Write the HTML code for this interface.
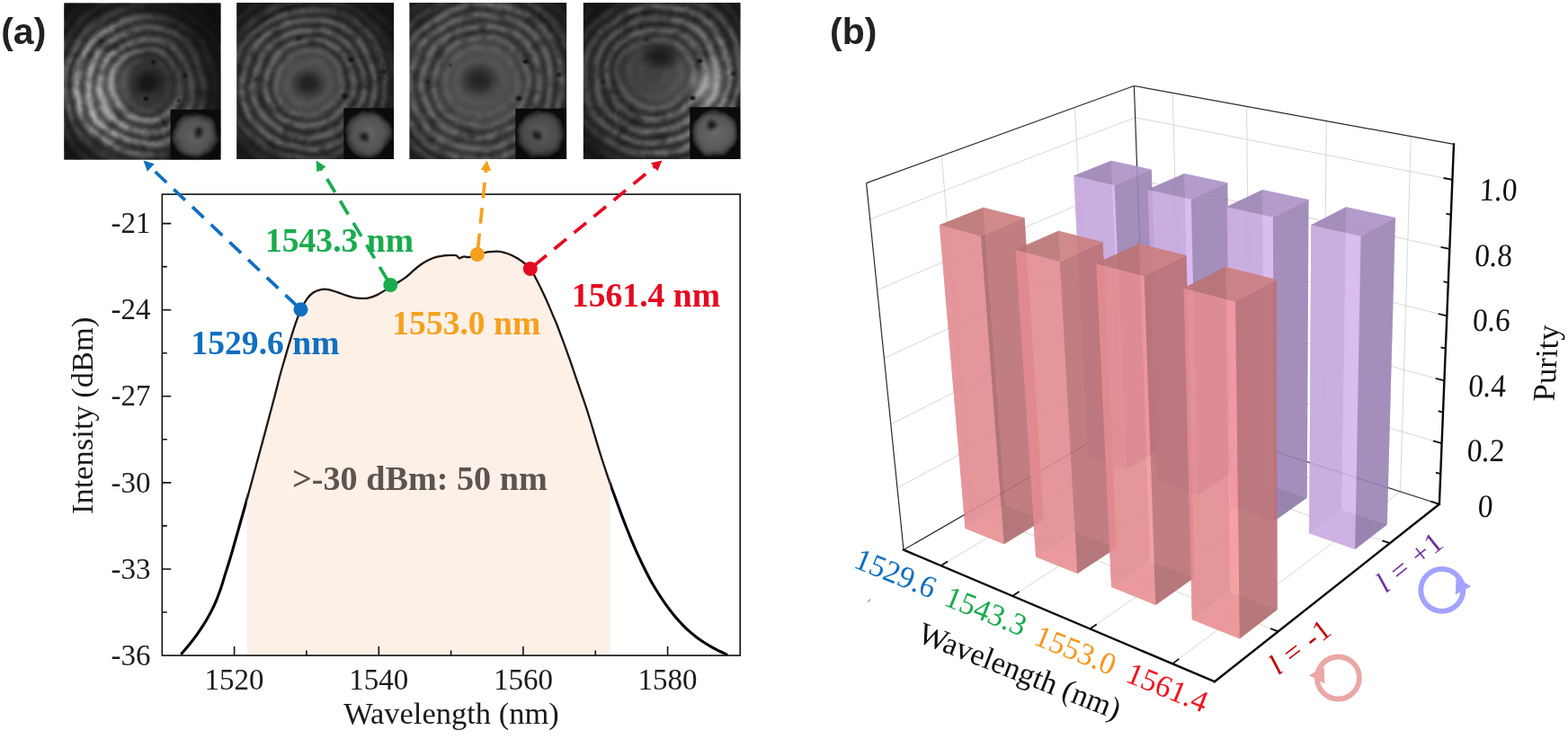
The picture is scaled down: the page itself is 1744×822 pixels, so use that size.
<!DOCTYPE html>
<html lang="en"><head><meta charset="utf-8"><title>Figure</title>
<style>
html,body{margin:0;padding:0;background:#fff;}
body{width:1744px;height:822px;overflow:hidden;}
svg{display:block;}
text{white-space:pre;}
</style></head><body>
<svg width="1744" height="822" viewBox="0 0 1744 822">
<rect width="1744" height="822" fill="#ffffff"/>
<defs>
<filter id="ib" x="-5%" y="-5%" width="110%" height="110%"><feGaussianBlur stdDeviation="0.9"/></filter>
<filter id="ib2" x="-20%" y="-20%" width="140%" height="140%"><feTurbulence type="fractalNoise" baseFrequency="0.05" numOctaves="2" seed="7" result="t"/><feDisplacementMap in="SourceGraphic" in2="t" scale="7" xChannelSelector="R" yChannelSelector="G"/><feGaussianBlur stdDeviation="1.0"/></filter>
<filter id="wr0" filterUnits="userSpaceOnUse" x="65.4" y="-2.4" width="186.0" height="185.8" color-interpolation-filters="sRGB"><feTurbulence type="fractalNoise" baseFrequency="0.018" numOctaves="2" seed="3" result="t"/><feDisplacementMap in="SourceGraphic" in2="t" scale="11" xChannelSelector="R" yChannelSelector="G" result="w"/><feGaussianBlur in="w" stdDeviation="1.0" result="b"/><feTurbulence type="fractalNoise" baseFrequency="0.07" numOctaves="2" seed="11" result="n"/><feColorMatrix in="n" type="matrix" values="0 0 0 0 0.08  0 0 0 0 0.08  0 0 0 0 0.08  1.1 0 0 0 -0.42" result="na"/><feComposite in="na" in2="b" operator="over"/></filter>
<filter id="wr1" filterUnits="userSpaceOnUse" x="257.4" y="-3.1" width="186.6" height="186.2" color-interpolation-filters="sRGB"><feTurbulence type="fractalNoise" baseFrequency="0.018" numOctaves="2" seed="8" result="t"/><feDisplacementMap in="SourceGraphic" in2="t" scale="9" xChannelSelector="R" yChannelSelector="G" result="w"/><feGaussianBlur in="w" stdDeviation="1.0" result="b"/><feTurbulence type="fractalNoise" baseFrequency="0.07" numOctaves="2" seed="12" result="n"/><feColorMatrix in="n" type="matrix" values="0 0 0 0 0.08  0 0 0 0 0.08  0 0 0 0 0.08  1.1 0 0 0 -0.42" result="na"/><feComposite in="na" in2="b" operator="over"/></filter>
<filter id="wr2" filterUnits="userSpaceOnUse" x="449.6" y="-3.1" width="186.5" height="186.2" color-interpolation-filters="sRGB"><feTurbulence type="fractalNoise" baseFrequency="0.018" numOctaves="2" seed="13" result="t"/><feDisplacementMap in="SourceGraphic" in2="t" scale="9" xChannelSelector="R" yChannelSelector="G" result="w"/><feGaussianBlur in="w" stdDeviation="1.0" result="b"/><feTurbulence type="fractalNoise" baseFrequency="0.07" numOctaves="2" seed="13" result="n"/><feColorMatrix in="n" type="matrix" values="0 0 0 0 0.08  0 0 0 0 0.08  0 0 0 0 0.08  1.1 0 0 0 -0.42" result="na"/><feComposite in="na" in2="b" operator="over"/></filter>
<filter id="wr3" filterUnits="userSpaceOnUse" x="642.9" y="-3.1" width="186.5" height="186.2" color-interpolation-filters="sRGB"><feTurbulence type="fractalNoise" baseFrequency="0.018" numOctaves="2" seed="18" result="t"/><feDisplacementMap in="SourceGraphic" in2="t" scale="10" xChannelSelector="R" yChannelSelector="G" result="w"/><feGaussianBlur in="w" stdDeviation="1.0" result="b"/><feTurbulence type="fractalNoise" baseFrequency="0.07" numOctaves="2" seed="14" result="n"/><feColorMatrix in="n" type="matrix" values="0 0 0 0 0.08  0 0 0 0 0.08  0 0 0 0 0.08  1.1 0 0 0 -0.42" result="na"/><feComposite in="na" in2="b" operator="over"/></filter>
<clipPath id="ic0"><rect x="71.4" y="3.6" width="174.0" height="173.8"/></clipPath>
<radialGradient id="rg0" gradientUnits="userSpaceOnUse" cx="163" cy="95" r="6.5" spreadMethod="reflect" gradientTransform="translate(163,95) rotate(0) scale(1.0,1.0) translate(-163,-95)"><stop offset="0" stop-color="rgb(186,186,186)"/><stop offset="0.5" stop-color="rgb(126,126,126)"/><stop offset="1" stop-color="rgb(66,66,66)"/></radialGradient>
<radialGradient id="env0" gradientUnits="userSpaceOnUse" cx="154" cy="92" r="110.0"><stop offset="0" stop-color="#101010" stop-opacity="0"/><stop offset="0.62" stop-color="#101010" stop-opacity="0.05"/><stop offset="0.8" stop-color="#101010" stop-opacity="0.72"/><stop offset="1" stop-color="#101010" stop-opacity="0.93"/></radialGradient>
<linearGradient id="dir0" gradientUnits="userSpaceOnUse" x1="71.4" y1="133.9" x2="245.4" y2="47.0"><stop offset="0.15" stop-color="#121212" stop-opacity="0.0"/><stop offset="0.85" stop-color="#121212" stop-opacity="0.7"/></linearGradient>
<radialGradient id="core0" gradientUnits="userSpaceOnUse" cx="164" cy="93" r="40"><stop offset="0" stop-color="rgb(60,60,60)" stop-opacity="0.9"/><stop offset="0.5" stop-color="rgb(70,70,70)" stop-opacity="0.9"/><stop offset="0.75" stop-color="rgb(74,74,74)" stop-opacity="0.63"/><stop offset="1" stop-color="rgb(74,74,74)" stop-opacity="0"/></radialGradient>
<radialGradient id="bl0_0"><stop offset="0" stop-color="#0c0c0c" stop-opacity="0.78"/><stop offset="0.45" stop-color="#0c0c0c" stop-opacity="0.58"/><stop offset="1" stop-color="#0c0c0c" stop-opacity="0"/></radialGradient>
<radialGradient id="bl0_1"><stop offset="0" stop-color="#ffffff" stop-opacity="0.13"/><stop offset="0.45" stop-color="#ffffff" stop-opacity="0.10"/><stop offset="1" stop-color="#ffffff" stop-opacity="0"/></radialGradient>
<radialGradient id="dn0" gradientUnits="userSpaceOnUse" cx="217.5" cy="150.5" r="25.5"><stop offset="0" stop-color="rgb(100,100,100)"/><stop offset="0.72" stop-color="rgb(82,82,82)"/><stop offset="0.9" stop-color="rgb(50,50,50)"/><stop offset="1" stop-color="#0c0c0c"/></radialGradient>
<radialGradient id="hl0" gradientUnits="userSpaceOnUse" cx="220.5" cy="147.5" r="9"><stop offset="0" stop-color="#141414" stop-opacity="1"/><stop offset="0.4" stop-color="#1c1c1c" stop-opacity="0.85"/><stop offset="1" stop-color="#333" stop-opacity="0"/></radialGradient>
<clipPath id="ic1"><rect x="263.4" y="2.9" width="174.6" height="174.2"/></clipPath>
<radialGradient id="rg1" gradientUnits="userSpaceOnUse" cx="343" cy="93" r="5.9" spreadMethod="reflect" gradientTransform="translate(343,93) rotate(-15) scale(1.06,1.0) translate(-343,-93)"><stop offset="0" stop-color="rgb(112,112,112)"/><stop offset="0.5" stop-color="rgb(79,79,79)"/><stop offset="1" stop-color="rgb(46,46,46)"/></radialGradient>
<radialGradient id="env1" gradientUnits="userSpaceOnUse" cx="343" cy="92" r="122.5"><stop offset="0" stop-color="#101010" stop-opacity="0"/><stop offset="0.62" stop-color="#101010" stop-opacity="0.05"/><stop offset="0.8" stop-color="#101010" stop-opacity="0.72"/><stop offset="1" stop-color="#101010" stop-opacity="0.93"/></radialGradient>
<linearGradient id="dir1" gradientUnits="userSpaceOnUse" x1="263.4" y1="72.6" x2="438.0" y2="107.4"><stop offset="0.15" stop-color="#121212" stop-opacity="0.0"/><stop offset="0.85" stop-color="#121212" stop-opacity="0.1"/></linearGradient>
<radialGradient id="core1" gradientUnits="userSpaceOnUse" cx="343" cy="92" r="44"><stop offset="0" stop-color="rgb(74,74,74)" stop-opacity="0.9"/><stop offset="0.5" stop-color="rgb(84,84,84)" stop-opacity="0.9"/><stop offset="0.75" stop-color="rgb(88,88,88)" stop-opacity="0.63"/><stop offset="1" stop-color="rgb(88,88,88)" stop-opacity="0"/></radialGradient>
<radialGradient id="bl1_0"><stop offset="0" stop-color="#101010" stop-opacity="0.74"/><stop offset="0.45" stop-color="#101010" stop-opacity="0.55"/><stop offset="1" stop-color="#101010" stop-opacity="0"/></radialGradient>
<radialGradient id="dn1" gradientUnits="userSpaceOnUse" cx="410" cy="149" r="26.5"><stop offset="0" stop-color="rgb(100,100,100)"/><stop offset="0.72" stop-color="rgb(82,82,82)"/><stop offset="0.9" stop-color="rgb(50,50,50)"/><stop offset="1" stop-color="#0c0c0c"/></radialGradient>
<radialGradient id="hl1" gradientUnits="userSpaceOnUse" cx="404" cy="151.5" r="8"><stop offset="0" stop-color="#141414" stop-opacity="1"/><stop offset="0.4" stop-color="#1c1c1c" stop-opacity="0.85"/><stop offset="1" stop-color="#333" stop-opacity="0"/></radialGradient>
<clipPath id="ic2"><rect x="455.6" y="2.9" width="174.5" height="174.2"/></clipPath>
<radialGradient id="rg2" gradientUnits="userSpaceOnUse" cx="535" cy="91" r="6.2" spreadMethod="reflect" gradientTransform="translate(535,91) rotate(-15) scale(1.06,1.0) translate(-535,-91)"><stop offset="0" stop-color="rgb(112,112,112)"/><stop offset="0.5" stop-color="rgb(83,83,83)"/><stop offset="1" stop-color="rgb(54,54,54)"/></radialGradient>
<radialGradient id="env2" gradientUnits="userSpaceOnUse" cx="537" cy="92" r="140.0"><stop offset="0" stop-color="#101010" stop-opacity="0"/><stop offset="0.62" stop-color="#101010" stop-opacity="0.05"/><stop offset="0.8" stop-color="#101010" stop-opacity="0.72"/><stop offset="1" stop-color="#101010" stop-opacity="0.93"/></radialGradient>
<linearGradient id="dir2" gradientUnits="userSpaceOnUse" x1="455.6" y1="72.6" x2="630.1" y2="107.4"><stop offset="0.15" stop-color="#121212" stop-opacity="0.0"/><stop offset="0.85" stop-color="#121212" stop-opacity="0.05"/></linearGradient>
<radialGradient id="core2" gradientUnits="userSpaceOnUse" cx="536" cy="92" r="56"><stop offset="0" stop-color="rgb(74,74,74)" stop-opacity="0.88"/><stop offset="0.5" stop-color="rgb(84,84,84)" stop-opacity="0.88"/><stop offset="0.75" stop-color="rgb(88,88,88)" stop-opacity="0.62"/><stop offset="1" stop-color="rgb(88,88,88)" stop-opacity="0"/></radialGradient>
<radialGradient id="bl2_0"><stop offset="0" stop-color="#101010" stop-opacity="0.7"/><stop offset="0.45" stop-color="#101010" stop-opacity="0.52"/><stop offset="1" stop-color="#101010" stop-opacity="0"/></radialGradient>
<radialGradient id="dn2" gradientUnits="userSpaceOnUse" cx="601" cy="149" r="27"><stop offset="0" stop-color="rgb(92,92,92)"/><stop offset="0.72" stop-color="rgb(74,74,74)"/><stop offset="0.9" stop-color="rgb(46,46,46)"/><stop offset="1" stop-color="#0c0c0c"/></radialGradient>
<radialGradient id="hl2" gradientUnits="userSpaceOnUse" cx="597" cy="150.5" r="8"><stop offset="0" stop-color="#141414" stop-opacity="1"/><stop offset="0.4" stop-color="#1c1c1c" stop-opacity="0.85"/><stop offset="1" stop-color="#333" stop-opacity="0"/></radialGradient>
<clipPath id="ic3"><rect x="648.9" y="2.9" width="174.5" height="174.2"/></clipPath>
<radialGradient id="rg3" gradientUnits="userSpaceOnUse" cx="729" cy="82" r="6.3" spreadMethod="reflect" gradientTransform="translate(729,82) rotate(-20) scale(1.08,1.0) translate(-729,-82)"><stop offset="0" stop-color="rgb(140,140,140)"/><stop offset="0.5" stop-color="rgb(95,95,95)"/><stop offset="1" stop-color="rgb(50,50,50)"/></radialGradient>
<radialGradient id="env3" gradientUnits="userSpaceOnUse" cx="735" cy="90" r="130.0"><stop offset="0" stop-color="#101010" stop-opacity="0"/><stop offset="0.62" stop-color="#101010" stop-opacity="0.05"/><stop offset="0.8" stop-color="#101010" stop-opacity="0.72"/><stop offset="1" stop-color="#101010" stop-opacity="0.93"/></radialGradient>
<linearGradient id="dir3" gradientUnits="userSpaceOnUse" x1="823.4" y1="107.4" x2="648.9" y2="72.6"><stop offset="0.15" stop-color="#121212" stop-opacity="0.0"/><stop offset="0.85" stop-color="#121212" stop-opacity="0.4"/></linearGradient>
<radialGradient id="core3" gradientUnits="userSpaceOnUse" cx="729" cy="80" r="48"><stop offset="0" stop-color="rgb(78,78,78)" stop-opacity="0.9"/><stop offset="0.5" stop-color="rgb(88,88,88)" stop-opacity="0.9"/><stop offset="0.75" stop-color="rgb(92,92,92)" stop-opacity="0.63"/><stop offset="1" stop-color="rgb(92,92,92)" stop-opacity="0"/></radialGradient>
<radialGradient id="bl3_0"><stop offset="0" stop-color="#ffffff" stop-opacity="0.34"/><stop offset="0.45" stop-color="#ffffff" stop-opacity="0.26"/><stop offset="1" stop-color="#ffffff" stop-opacity="0"/></radialGradient>
<radialGradient id="bl3_1"><stop offset="0" stop-color="#0c0c0c" stop-opacity="0.78"/><stop offset="0.45" stop-color="#0c0c0c" stop-opacity="0.58"/><stop offset="1" stop-color="#0c0c0c" stop-opacity="0"/></radialGradient>
<radialGradient id="dn3" gradientUnits="userSpaceOnUse" cx="795" cy="148" r="26.5"><stop offset="0" stop-color="rgb(105,105,105)"/><stop offset="0.72" stop-color="rgb(87,87,87)"/><stop offset="0.9" stop-color="rgb(52,52,52)"/><stop offset="1" stop-color="#0c0c0c"/></radialGradient>
<radialGradient id="hl3" gradientUnits="userSpaceOnUse" cx="792" cy="139" r="8"><stop offset="0" stop-color="#141414" stop-opacity="1"/><stop offset="0.4" stop-color="#1c1c1c" stop-opacity="0.85"/><stop offset="1" stop-color="#333" stop-opacity="0"/></radialGradient>
</defs>
<g clip-path="url(#ic0)">
<rect x="71.4" y="3.6" width="174.0" height="173.8" fill="#141414"/>
<g filter="url(#wr0)">
<rect x="57.400000000000006" y="-10.4" width="202.0" height="201.8" fill="url(#rg0)"/>
</g>
<g filter="url(#ib)">
<rect x="67.4" y="-0.3999999999999999" width="182.0" height="181.8" fill="url(#core0)"/>
<rect x="67.4" y="-0.3999999999999999" width="182.0" height="181.8" fill="url(#dir0)"/>
<rect x="67.4" y="-0.3999999999999999" width="182.0" height="181.8" fill="url(#env0)"/>
<ellipse cx="164" cy="92" rx="21" ry="17" fill="url(#bl0_0)" transform="rotate(-20 164 92)"/>
<ellipse cx="112" cy="105" rx="34" ry="50" fill="url(#bl0_1)" transform="rotate(20 112 105)"/>
<ellipse cx="170.5" cy="69" rx="2.8" ry="2.2" fill="#0c0c0c"/>
<ellipse cx="206" cy="84" rx="2.5" ry="2.0" fill="#0c0c0c"/>
<ellipse cx="162.5" cy="110" rx="3.0" ry="2.4" fill="#0c0c0c"/>
<ellipse cx="199" cy="112" rx="2.0" ry="1.6" fill="#0c0c0c"/>
<ellipse cx="113" cy="46" rx="2.2" ry="1.8" fill="#0c0c0c"/>
</g>
<rect x="189.6" y="121.8" width="55.8" height="55.6" fill="#0b0b0b"/>
<g filter="url(#ib2)"><circle cx="217.5" cy="150.5" r="25.5" fill="url(#dn0)"/>
<circle cx="220.5" cy="147.5" r="9" fill="url(#hl0)"/></g>
</g>
<g clip-path="url(#ic1)">
<rect x="263.4" y="2.9" width="174.6" height="174.2" fill="#161616"/>
<g filter="url(#wr1)">
<rect x="249.39999999999998" y="-11.1" width="202.6" height="202.2" fill="url(#rg1)"/>
</g>
<g filter="url(#ib)">
<rect x="259.4" y="-1.1" width="182.6" height="182.2" fill="url(#core1)"/>
<rect x="259.4" y="-1.1" width="182.6" height="182.2" fill="url(#dir1)"/>
<rect x="259.4" y="-1.1" width="182.6" height="182.2" fill="url(#env1)"/>
<ellipse cx="343" cy="93" rx="21" ry="18" fill="url(#bl1_0)" transform="rotate(0 343 93)"/>
<ellipse cx="390" cy="66.5" rx="2.9" ry="2.3" fill="#0c0c0c"/>
<ellipse cx="383.5" cy="107" rx="3.0" ry="2.4" fill="#0c0c0c"/>
<ellipse cx="427" cy="80" rx="2.5" ry="2.0" fill="#0c0c0c"/>
<ellipse cx="332.5" cy="43" rx="2.0" ry="1.6" fill="#0c0c0c"/>
<ellipse cx="285" cy="88" rx="1.9" ry="1.5" fill="#0c0c0c"/>
</g>
<rect x="382.3" y="120.2" width="55.7" height="56.9" fill="#0b0b0b"/>
<g filter="url(#ib2)"><circle cx="410" cy="149" r="26.5" fill="url(#dn1)"/>
<circle cx="404" cy="151.5" r="8" fill="url(#hl1)"/></g>
</g>
<g clip-path="url(#ic2)">
<rect x="455.6" y="2.9" width="174.5" height="174.2" fill="#161616"/>
<g filter="url(#wr2)">
<rect x="441.6" y="-11.1" width="202.5" height="202.2" fill="url(#rg2)"/>
</g>
<g filter="url(#ib)">
<rect x="451.6" y="-1.1" width="182.5" height="182.2" fill="url(#core2)"/>
<rect x="451.6" y="-1.1" width="182.5" height="182.2" fill="url(#dir2)"/>
<rect x="451.6" y="-1.1" width="182.5" height="182.2" fill="url(#env2)"/>
<ellipse cx="533" cy="89" rx="23" ry="20" fill="url(#bl2_0)" transform="rotate(0 533 89)"/>
<ellipse cx="584.5" cy="68.5" rx="3.1" ry="2.5" fill="#0c0c0c"/>
<ellipse cx="577" cy="109.5" rx="3.4" ry="2.7" fill="#0c0c0c"/>
<ellipse cx="622" cy="83" rx="2.5" ry="2.0" fill="#0c0c0c"/>
<ellipse cx="476" cy="91" rx="2.2" ry="1.8" fill="#0c0c0c"/>
<ellipse cx="501" cy="72" rx="2.0" ry="1.6" fill="#0c0c0c"/>
</g>
<rect x="573.3" y="120.7" width="56.8" height="56.4" fill="#0b0b0b"/>
<g filter="url(#ib2)"><circle cx="601" cy="149" r="27" fill="url(#dn2)"/>
<circle cx="597" cy="150.5" r="8" fill="url(#hl2)"/></g>
</g>
<g clip-path="url(#ic3)">
<rect x="648.9" y="2.9" width="174.5" height="174.2" fill="#161616"/>
<g filter="url(#wr3)">
<rect x="634.9" y="-11.1" width="202.5" height="202.2" fill="url(#rg3)"/>
</g>
<g filter="url(#ib)">
<rect x="644.9" y="-1.1" width="182.5" height="182.2" fill="url(#core3)"/>
<rect x="644.9" y="-1.1" width="182.5" height="182.2" fill="url(#dir3)"/>
<rect x="644.9" y="-1.1" width="182.5" height="182.2" fill="url(#env3)"/>
<ellipse cx="788" cy="95" rx="24" ry="36" fill="url(#bl3_0)" transform="rotate(20 788 95)"/>
<ellipse cx="735" cy="62" rx="26" ry="18" fill="url(#bl3_1)" transform="rotate(0 735 62)"/>
<ellipse cx="778.5" cy="68" rx="3.1" ry="2.5" fill="#0c0c0c"/>
<ellipse cx="770.5" cy="109" rx="3.4" ry="2.7" fill="#0c0c0c"/>
<ellipse cx="815.5" cy="82" rx="2.5" ry="2.0" fill="#0c0c0c"/>
<ellipse cx="671" cy="91" rx="2.0" ry="1.6" fill="#0c0c0c"/>
<ellipse cx="719" cy="44" rx="2.0" ry="1.6" fill="#0c0c0c"/>
</g>
<rect x="767.3" y="119.2" width="56.1" height="57.9" fill="#0b0b0b"/>
<g filter="url(#ib2)"><circle cx="795" cy="148" r="26.5" fill="url(#dn3)"/>
<circle cx="792" cy="139" r="8" fill="url(#hl3)"/></g>
</g>
<g id="panel-a">
<clipPath id="shade"><rect x="274.8" y="216.1" width="403.8" height="513.0"/></clipPath>
<path d="M201.3,727.9C202.9,726.0 207.7,720.4 210.7,716.7C213.7,713.0 216.4,709.6 219.2,705.6C222.0,701.6 225.1,696.9 227.7,692.8C230.2,688.7 232.4,685.0 234.5,680.9C236.6,676.8 238.7,672.5 240.5,668.1C242.3,663.7 244.0,659.0 245.6,654.5C247.2,650.0 248.4,645.4 249.8,640.9C251.2,636.4 252.7,631.8 254.1,627.3C255.5,622.8 256.9,618.1 258.2,613.6C259.5,609.1 260.3,606.1 261.9,600.5C263.5,594.9 265.9,586.4 267.7,580.0C269.5,573.6 271.2,567.6 272.8,562.0C274.4,556.4 275.7,551.7 277.1,546.5C278.5,541.3 279.9,536.2 281.3,531.0C282.7,525.8 284.2,520.2 285.6,515.0C287.0,509.8 288.4,504.7 289.8,499.5C291.2,494.3 292.8,488.7 294.1,483.8C295.4,478.9 295.8,477.4 297.7,470.0C299.6,462.6 303.6,448.1 305.8,439.7C308.0,431.3 309.1,426.3 310.9,419.5C312.7,412.7 314.8,405.7 316.8,398.8C318.8,391.9 320.8,384.9 322.8,378.4C324.8,371.9 326.8,365.2 328.8,359.6C330.8,354.0 332.6,349.1 334.7,344.6C336.8,340.1 339.2,335.6 341.5,332.4C343.8,329.2 345.8,327.2 348.4,325.5C351.0,323.8 354.1,322.7 356.9,322.1C359.7,321.5 362.3,321.6 365.4,322.1C368.5,322.6 372.2,324.1 375.6,325.2C379.0,326.3 382.1,327.7 385.8,328.8C389.5,329.9 393.6,331.2 397.7,331.6C401.8,332.0 406.4,332.1 410.2,331.4C414.0,330.7 417.3,329.0 420.4,327.5C423.5,326.0 426.6,324.0 429.0,322.4C431.4,320.8 432.6,319.5 434.9,318.1C437.1,316.7 439.8,315.8 442.5,314.2C445.2,312.6 448.2,310.8 451.1,308.6C454.0,306.4 456.8,303.5 459.6,301.1C462.4,298.7 465.3,296.3 468.1,294.3C470.9,292.3 473.8,290.6 476.6,289.2C479.5,287.8 482.4,286.6 485.2,285.8C488.0,285.0 490.9,284.6 493.7,284.3C496.5,284.0 499.8,283.9 502.0,283.8C504.2,283.8 505.6,283.7 506.8,284.0C508.0,284.3 508.5,285.0 509.2,285.6C509.9,286.2 510.4,287.3 511.1,287.4C511.8,287.5 512.6,286.5 513.5,286.2C514.4,285.9 515.3,285.4 516.2,285.4C517.1,285.4 518.0,285.9 519.0,286.0C520.0,286.1 520.9,286.2 522.1,286.0C523.3,285.8 524.5,285.1 526.0,284.6C527.5,284.1 528.0,283.5 531.0,282.8C534.0,282.1 540.1,280.7 544.3,280.2C548.5,279.7 552.5,279.5 556.2,279.9C559.9,280.3 563.3,281.6 566.4,282.8C569.5,284.0 572.0,285.4 574.9,287.1C577.8,288.8 581.0,291.1 583.5,293.0C586.0,294.9 587.6,295.7 589.9,298.8C592.2,301.9 594.8,307.4 597.1,311.8C599.4,316.2 601.9,321.3 603.9,325.4C605.9,329.5 607.0,332.1 609.0,336.6C611.0,341.1 614.1,348.5 615.8,352.6C617.5,356.7 617.7,356.6 619.4,361.0C621.1,365.4 623.9,373.1 626.2,379.2C628.5,385.3 630.7,391.5 633.0,397.9C635.3,404.3 637.5,411.2 639.8,417.8C642.1,424.4 644.3,430.9 646.6,437.6C648.9,444.3 651.3,451.1 653.5,458.0C655.7,464.9 657.9,472.2 660.0,479.3C662.1,486.4 664.2,493.7 666.3,500.5C668.4,507.3 670.5,513.8 672.6,520.0C674.7,526.2 676.8,532.8 678.6,537.9C680.4,543.0 681.3,545.4 683.2,550.5C685.1,555.6 687.6,562.6 689.8,568.6C692.0,574.6 694.5,581.1 696.6,586.5C698.7,591.9 700.4,596.0 702.4,600.8C704.4,605.6 706.5,610.5 708.7,615.3C710.9,620.1 712.9,624.6 715.5,629.8C718.1,635.0 721.2,641.3 724.1,646.4C727.0,651.5 729.8,656.0 732.6,660.5C735.4,665.0 738.3,669.2 741.1,673.2C743.9,677.2 746.8,680.8 749.6,684.3C752.4,687.8 755.3,690.9 758.1,693.9C760.9,696.9 763.8,699.7 766.6,702.2C769.5,704.8 772.4,707.1 775.2,709.2C778.1,711.3 780.9,713.2 783.7,715.0C786.5,716.8 789.4,718.5 792.2,720.1C795.0,721.7 797.9,723.1 800.7,724.5C803.5,725.9 807.8,727.9 809.2,728.6L808.9,729.1L200.7,729.1Z" fill="#fcf0e7" clip-path="url(#shade)"/>
<clipPath id="plotclip"><rect x="180.3" y="216.1" width="642.9" height="513.0"/></clipPath>
<clipPath id="flank"><rect x="180.3" y="216.1" width="94.5" height="513.0"/><rect x="678.6" y="216.1" width="144.6" height="513.0"/></clipPath>
<path d="M201.3,727.9C202.9,726.0 207.7,720.4 210.7,716.7C213.7,713.0 216.4,709.6 219.2,705.6C222.0,701.6 225.1,696.9 227.7,692.8C230.2,688.7 232.4,685.0 234.5,680.9C236.6,676.8 238.7,672.5 240.5,668.1C242.3,663.7 244.0,659.0 245.6,654.5C247.2,650.0 248.4,645.4 249.8,640.9C251.2,636.4 252.7,631.8 254.1,627.3C255.5,622.8 256.9,618.1 258.2,613.6C259.5,609.1 260.3,606.1 261.9,600.5C263.5,594.9 265.9,586.4 267.7,580.0C269.5,573.6 271.2,567.6 272.8,562.0C274.4,556.4 275.7,551.7 277.1,546.5C278.5,541.3 279.9,536.2 281.3,531.0C282.7,525.8 284.2,520.2 285.6,515.0C287.0,509.8 288.4,504.7 289.8,499.5C291.2,494.3 292.8,488.7 294.1,483.8C295.4,478.9 295.8,477.4 297.7,470.0C299.6,462.6 303.6,448.1 305.8,439.7C308.0,431.3 309.1,426.3 310.9,419.5C312.7,412.7 314.8,405.7 316.8,398.8C318.8,391.9 320.8,384.9 322.8,378.4C324.8,371.9 326.8,365.2 328.8,359.6C330.8,354.0 332.6,349.1 334.7,344.6C336.8,340.1 339.2,335.6 341.5,332.4C343.8,329.2 345.8,327.2 348.4,325.5C351.0,323.8 354.1,322.7 356.9,322.1C359.7,321.5 362.3,321.6 365.4,322.1C368.5,322.6 372.2,324.1 375.6,325.2C379.0,326.3 382.1,327.7 385.8,328.8C389.5,329.9 393.6,331.2 397.7,331.6C401.8,332.0 406.4,332.1 410.2,331.4C414.0,330.7 417.3,329.0 420.4,327.5C423.5,326.0 426.6,324.0 429.0,322.4C431.4,320.8 432.6,319.5 434.9,318.1C437.1,316.7 439.8,315.8 442.5,314.2C445.2,312.6 448.2,310.8 451.1,308.6C454.0,306.4 456.8,303.5 459.6,301.1C462.4,298.7 465.3,296.3 468.1,294.3C470.9,292.3 473.8,290.6 476.6,289.2C479.5,287.8 482.4,286.6 485.2,285.8C488.0,285.0 490.9,284.6 493.7,284.3C496.5,284.0 499.8,283.9 502.0,283.8C504.2,283.8 505.6,283.7 506.8,284.0C508.0,284.3 508.5,285.0 509.2,285.6C509.9,286.2 510.4,287.3 511.1,287.4C511.8,287.5 512.6,286.5 513.5,286.2C514.4,285.9 515.3,285.4 516.2,285.4C517.1,285.4 518.0,285.9 519.0,286.0C520.0,286.1 520.9,286.2 522.1,286.0C523.3,285.8 524.5,285.1 526.0,284.6C527.5,284.1 528.0,283.5 531.0,282.8C534.0,282.1 540.1,280.7 544.3,280.2C548.5,279.7 552.5,279.5 556.2,279.9C559.9,280.3 563.3,281.6 566.4,282.8C569.5,284.0 572.0,285.4 574.9,287.1C577.8,288.8 581.0,291.1 583.5,293.0C586.0,294.9 587.6,295.7 589.9,298.8C592.2,301.9 594.8,307.4 597.1,311.8C599.4,316.2 601.9,321.3 603.9,325.4C605.9,329.5 607.0,332.1 609.0,336.6C611.0,341.1 614.1,348.5 615.8,352.6C617.5,356.7 617.7,356.6 619.4,361.0C621.1,365.4 623.9,373.1 626.2,379.2C628.5,385.3 630.7,391.5 633.0,397.9C635.3,404.3 637.5,411.2 639.8,417.8C642.1,424.4 644.3,430.9 646.6,437.6C648.9,444.3 651.3,451.1 653.5,458.0C655.7,464.9 657.9,472.2 660.0,479.3C662.1,486.4 664.2,493.7 666.3,500.5C668.4,507.3 670.5,513.8 672.6,520.0C674.7,526.2 676.8,532.8 678.6,537.9C680.4,543.0 681.3,545.4 683.2,550.5C685.1,555.6 687.6,562.6 689.8,568.6C692.0,574.6 694.5,581.1 696.6,586.5C698.7,591.9 700.4,596.0 702.4,600.8C704.4,605.6 706.5,610.5 708.7,615.3C710.9,620.1 712.9,624.6 715.5,629.8C718.1,635.0 721.2,641.3 724.1,646.4C727.0,651.5 729.8,656.0 732.6,660.5C735.4,665.0 738.3,669.2 741.1,673.2C743.9,677.2 746.8,680.8 749.6,684.3C752.4,687.8 755.3,690.9 758.1,693.9C760.9,696.9 763.8,699.7 766.6,702.2C769.5,704.8 772.4,707.1 775.2,709.2C778.1,711.3 780.9,713.2 783.7,715.0C786.5,716.8 789.4,718.5 792.2,720.1C795.0,721.7 797.9,723.1 800.7,724.5C803.5,725.9 807.8,727.9 809.2,728.6" fill="none" stroke="#050505" stroke-width="3.1" stroke-linejoin="round" clip-path="url(#flank)"/>
<path d="M201.3,727.9C202.9,726.0 207.7,720.4 210.7,716.7C213.7,713.0 216.4,709.6 219.2,705.6C222.0,701.6 225.1,696.9 227.7,692.8C230.2,688.7 232.4,685.0 234.5,680.9C236.6,676.8 238.7,672.5 240.5,668.1C242.3,663.7 244.0,659.0 245.6,654.5C247.2,650.0 248.4,645.4 249.8,640.9C251.2,636.4 252.7,631.8 254.1,627.3C255.5,622.8 256.9,618.1 258.2,613.6C259.5,609.1 260.3,606.1 261.9,600.5C263.5,594.9 265.9,586.4 267.7,580.0C269.5,573.6 271.2,567.6 272.8,562.0C274.4,556.4 275.7,551.7 277.1,546.5C278.5,541.3 279.9,536.2 281.3,531.0C282.7,525.8 284.2,520.2 285.6,515.0C287.0,509.8 288.4,504.7 289.8,499.5C291.2,494.3 292.8,488.7 294.1,483.8C295.4,478.9 295.8,477.4 297.7,470.0C299.6,462.6 303.6,448.1 305.8,439.7C308.0,431.3 309.1,426.3 310.9,419.5C312.7,412.7 314.8,405.7 316.8,398.8C318.8,391.9 320.8,384.9 322.8,378.4C324.8,371.9 326.8,365.2 328.8,359.6C330.8,354.0 332.6,349.1 334.7,344.6C336.8,340.1 339.2,335.6 341.5,332.4C343.8,329.2 345.8,327.2 348.4,325.5C351.0,323.8 354.1,322.7 356.9,322.1C359.7,321.5 362.3,321.6 365.4,322.1C368.5,322.6 372.2,324.1 375.6,325.2C379.0,326.3 382.1,327.7 385.8,328.8C389.5,329.9 393.6,331.2 397.7,331.6C401.8,332.0 406.4,332.1 410.2,331.4C414.0,330.7 417.3,329.0 420.4,327.5C423.5,326.0 426.6,324.0 429.0,322.4C431.4,320.8 432.6,319.5 434.9,318.1C437.1,316.7 439.8,315.8 442.5,314.2C445.2,312.6 448.2,310.8 451.1,308.6C454.0,306.4 456.8,303.5 459.6,301.1C462.4,298.7 465.3,296.3 468.1,294.3C470.9,292.3 473.8,290.6 476.6,289.2C479.5,287.8 482.4,286.6 485.2,285.8C488.0,285.0 490.9,284.6 493.7,284.3C496.5,284.0 499.8,283.9 502.0,283.8C504.2,283.8 505.6,283.7 506.8,284.0C508.0,284.3 508.5,285.0 509.2,285.6C509.9,286.2 510.4,287.3 511.1,287.4C511.8,287.5 512.6,286.5 513.5,286.2C514.4,285.9 515.3,285.4 516.2,285.4C517.1,285.4 518.0,285.9 519.0,286.0C520.0,286.1 520.9,286.2 522.1,286.0C523.3,285.8 524.5,285.1 526.0,284.6C527.5,284.1 528.0,283.5 531.0,282.8C534.0,282.1 540.1,280.7 544.3,280.2C548.5,279.7 552.5,279.5 556.2,279.9C559.9,280.3 563.3,281.6 566.4,282.8C569.5,284.0 572.0,285.4 574.9,287.1C577.8,288.8 581.0,291.1 583.5,293.0C586.0,294.9 587.6,295.7 589.9,298.8C592.2,301.9 594.8,307.4 597.1,311.8C599.4,316.2 601.9,321.3 603.9,325.4C605.9,329.5 607.0,332.1 609.0,336.6C611.0,341.1 614.1,348.5 615.8,352.6C617.5,356.7 617.7,356.6 619.4,361.0C621.1,365.4 623.9,373.1 626.2,379.2C628.5,385.3 630.7,391.5 633.0,397.9C635.3,404.3 637.5,411.2 639.8,417.8C642.1,424.4 644.3,430.9 646.6,437.6C648.9,444.3 651.3,451.1 653.5,458.0C655.7,464.9 657.9,472.2 660.0,479.3C662.1,486.4 664.2,493.7 666.3,500.5C668.4,507.3 670.5,513.8 672.6,520.0C674.7,526.2 676.8,532.8 678.6,537.9C680.4,543.0 681.3,545.4 683.2,550.5C685.1,555.6 687.6,562.6 689.8,568.6C692.0,574.6 694.5,581.1 696.6,586.5C698.7,591.9 700.4,596.0 702.4,600.8C704.4,605.6 706.5,610.5 708.7,615.3C710.9,620.1 712.9,624.6 715.5,629.8C718.1,635.0 721.2,641.3 724.1,646.4C727.0,651.5 729.8,656.0 732.6,660.5C735.4,665.0 738.3,669.2 741.1,673.2C743.9,677.2 746.8,680.8 749.6,684.3C752.4,687.8 755.3,690.9 758.1,693.9C760.9,696.9 763.8,699.7 766.6,702.2C769.5,704.8 772.4,707.1 775.2,709.2C778.1,711.3 780.9,713.2 783.7,715.0C786.5,716.8 789.4,718.5 792.2,720.1C795.0,721.7 797.9,723.1 800.7,724.5C803.5,725.9 807.8,727.9 809.2,728.6" fill="none" stroke="#1c1512" stroke-width="2.3" stroke-linejoin="round" clip-path="url(#shade)"/>
<rect x="180.3" y="216.1" width="642.9" height="513.0" fill="none" stroke="#111" stroke-width="1.6"/>
<path d="M260.6,729.1v-10 M421.3,729.1v-10 M581.9,729.1v-10 M742.6,729.1v-10 M340.9,729.1v-5.5 M501.6,729.1v-5.5 M662.3,729.1v-5.5 M180.3,248.6h10 M180.3,344.7h10 M180.3,440.8h10 M180.3,536.9h10 M180.3,633.0h10 M180.3,296.6h5.5 M180.3,392.7h5.5 M180.3,488.8h5.5 M180.3,584.9h5.5 M180.3,681.0h5.5" stroke="#111" stroke-width="1.6" fill="none"/>
<g font-family="'Liberation Serif', 'Times New Roman', serif" font-size="33" fill="#1a1a1a">
<text x="260.6" y="767.3" text-anchor="middle">1520</text>
<text x="421.3" y="767.3" text-anchor="middle">1540</text>
<text x="581.9" y="767.3" text-anchor="middle">1560</text>
<text x="742.6" y="767.3" text-anchor="middle">1580</text>
<text x="167.5" y="259.2" text-anchor="end">-21</text>
<text x="167.5" y="355.3" text-anchor="end">-24</text>
<text x="167.5" y="451.4" text-anchor="end">-27</text>
<text x="167.5" y="547.5" text-anchor="end">-30</text>
<text x="167.5" y="643.6" text-anchor="end">-33</text>
<text x="167.5" y="739.7" text-anchor="end">-36</text>
</g>
<g font-family="'Liberation Serif', 'Times New Roman', serif" font-size="34.5" fill="#1a1a1a">
<text x="502" y="805" text-anchor="middle">Wavelength (nm)</text>
<text transform="translate(102.5,462.3) rotate(-90)" text-anchor="middle">Intensity (dBm)</text>
</g>
<line x1="334.5" y1="344.3" x2="165.3" y2="184.1" stroke="#0f6fc0" stroke-width="3.7" stroke-dasharray="17.5 11" stroke-dashoffset="-6"/>
<polygon points="159.5,178.6 171.8,182.3 163.9,190.7" fill="#0f6fc0"/>
<circle cx="334.5" cy="344.3" r="8" fill="#0f6fc0"/>
<line x1="434.3" y1="317.0" x2="355.7" y2="185.5" stroke="#1aab4e" stroke-width="3.7" stroke-dasharray="17.5 11" stroke-dashoffset="-6"/>
<polygon points="351.6,178.6 362.5,185.5 352.5,191.4" fill="#1aab4e"/>
<circle cx="434.3" cy="317.0" r="8" fill="#1aab4e"/>
<line x1="530.9" y1="283.0" x2="540.8" y2="186.2" stroke="#f5a01e" stroke-width="3.7" stroke-dasharray="17.5 11" stroke-dashoffset="-6"/>
<polygon points="541.6,178.2 546.2,190.2 534.7,189.1" fill="#f5a01e"/>
<circle cx="530.9" cy="283.0" r="8" fill="#f5a01e"/>
<line x1="589.8" y1="298.9" x2="730.3" y2="183.5" stroke="#e60a20" stroke-width="3.7" stroke-dasharray="17.5 11" stroke-dashoffset="-6"/>
<polygon points="736.5,178.4 731.3,190.2 723.9,181.2" fill="#e60a20"/>
<circle cx="589.8" cy="298.9" r="8" fill="#e60a20"/>
<g font-family="'Liberation Serif', 'Times New Roman', serif" font-size="37.6" font-weight="bold">
<text x="212.5" y="394.3" fill="#0f6fc0">1529.6 nm</text>
<text x="295" y="279.6" fill="#1aab4e">1543.3 nm</text>
<text x="436.3" y="372.3" fill="#f5a01e">1553.0 nm</text>
<text x="636" y="340.8" fill="#e60a20">1561.4 nm</text>
<text x="325" y="544.6" fill="#5b5450" font-size="38.2">&gt;-30 dBm: 50 nm</text>
</g>
</g>
<g id="panel-b">
<path d="M998.0,542.9L1272.1,394.8 M1272.1,394.8L1603.6,493.2 M990.8,471.9L1269.9,331.6 M1269.9,331.6L1606.4,423.4 M983.4,398.5L1267.5,266.6 M1267.5,266.6L1609.3,351.4 M975.6,322.6L1265.1,199.7 M1265.1,199.7L1612.3,276.9 M967.7,243.9L1262.6,130.7 M1262.6,130.7L1615.4,199.9 M1080.0,568.4L1047.3,173.2 M1080.0,568.4L1421.5,702.4 M1214.1,490.9L1195.5,119.4 M1214.1,490.9L1545.9,604.2 M1314.1,468.9L1304.3,103.3 M1046.4,629.2L1314.1,468.9 M1390.1,493.3L1386.6,118.3 M1126.1,662.9L1390.1,493.3 M1471.6,519.4L1475.3,134.6 M1212.3,699.5L1471.6,519.4 M1557.5,546.8L1569.3,151.7 M1304.1,738.4L1557.5,546.8" stroke="#d2d2d2" stroke-width="0.9" fill="none"/>
<path d="M963.6,203.6L1261.4,95.5 M1261.4,95.5L1617.0,160.4 M1005.0,611.6L963.6,203.6 M1274.3,456.2L1261.4,95.5 M1005.0,611.6L1274.3,456.2 M1274.3,456.2L1600.9,560.8" stroke="#2a2a2a" stroke-width="1.2" fill="none"/>
<g shape-rendering="geometricPrecision">
<polygon points="1210.4,507.7 1252.8,522.4 1290.9,499.2 1248.9,485.2" fill="rgb(160,136,186)" fill-opacity="0.7"/>
<polygon points="1210.4,507.7 1248.9,485.2 1236.0,178.8 1194.4,195.6" fill="rgb(138,116,164)" fill-opacity="0.7"/>
<polygon points="1248.9,485.2 1290.9,499.2 1280.8,188.5 1236.0,178.8" fill="rgb(213,181,238)" fill-opacity="0.7"/>
<polygon points="1210.4,507.7 1252.8,522.4 1239.6,205.9 1194.4,195.6" fill="rgb(213,181,238)" fill-opacity="0.7"/>
<polygon points="1252.8,522.4 1290.9,499.2 1280.8,188.5 1239.6,205.9" fill="rgb(138,116,164)" fill-opacity="0.7"/>
<polygon points="1194.4,195.6 1239.6,205.9 1280.8,188.5 1236.0,178.8" fill="rgb(160,136,186)" fill-opacity="0.7"/>
<polygon points="1287.4,534.5 1332.4,550.2 1369.8,525.7 1325.2,510.7" fill="rgb(160,136,186)" fill-opacity="0.7"/>
<polygon points="1287.4,534.5 1325.2,510.7 1317.4,193.0 1276.5,210.8" fill="rgb(138,116,164)" fill-opacity="0.7"/>
<polygon points="1325.2,510.7 1369.8,525.7 1365.3,203.3 1317.4,193.0" fill="rgb(213,181,238)" fill-opacity="0.7"/>
<polygon points="1287.4,534.5 1332.4,550.2 1324.8,221.7 1276.5,210.8" fill="rgb(213,181,238)" fill-opacity="0.7"/>
<polygon points="1332.4,550.2 1369.8,525.7 1365.3,203.3 1324.8,221.7" fill="rgb(138,116,164)" fill-opacity="0.7"/>
<polygon points="1276.5,210.8 1324.8,221.7 1365.3,203.3 1317.4,193.0" fill="rgb(160,136,186)" fill-opacity="0.7"/>
<polygon points="1369.1,563.0 1417.0,579.7 1453.7,553.7 1406.3,537.8" fill="rgb(160,136,186)" fill-opacity="0.7"/>
<polygon points="1369.1,563.0 1406.3,537.8 1404.4,211.1 1364.3,229.9" fill="rgb(138,116,164)" fill-opacity="0.7"/>
<polygon points="1406.3,537.8 1453.7,553.7 1455.5,222.1 1404.4,211.1" fill="rgb(213,181,238)" fill-opacity="0.7"/>
<polygon points="1369.1,563.0 1417.0,579.7 1415.9,241.5 1364.3,229.9" fill="rgb(213,181,238)" fill-opacity="0.7"/>
<polygon points="1417.0,579.7 1453.7,553.7 1455.5,222.1 1415.9,241.5" fill="rgb(138,116,164)" fill-opacity="0.7"/>
<polygon points="1364.3,229.9 1415.9,241.5 1455.5,222.1 1404.4,211.1" fill="rgb(160,136,186)" fill-opacity="0.7"/>
<polygon points="1456.2,593.3 1507.2,611.1 1542.8,583.5 1492.4,566.7" fill="rgb(160,136,186)" fill-opacity="0.7"/>
<polygon points="1456.2,593.3 1492.4,566.7 1497.3,230.2 1458.3,250.2" fill="rgb(138,116,164)" fill-opacity="0.7"/>
<polygon points="1492.4,566.7 1542.8,583.5 1552.0,242.0 1497.3,230.2" fill="rgb(213,181,238)" fill-opacity="0.7"/>
<polygon points="1456.2,593.3 1507.2,611.1 1513.6,262.7 1458.3,250.2" fill="rgb(213,181,238)" fill-opacity="0.7"/>
<polygon points="1507.2,611.1 1542.8,583.5 1552.0,242.0 1513.6,262.7" fill="rgb(138,116,164)" fill-opacity="0.7"/>
<polygon points="1458.3,250.2 1513.6,262.7 1552.0,242.0 1497.3,230.2" fill="rgb(160,136,186)" fill-opacity="0.7"/>
<polygon points="1073.5,587.8 1116.7,605.2 1161.0,578.3 1118.0,561.8" fill="rgb(193,120,118)" fill-opacity="0.7"/>
<polygon points="1073.5,587.8 1118.0,561.8 1093.6,230.7 1044.9,250.3" fill="rgb(170,102,107)" fill-opacity="0.7"/>
<polygon points="1118.0,561.8 1161.0,578.3 1139.6,242.3 1093.6,230.7" fill="rgb(243,151,157)" fill-opacity="0.7"/>
<polygon points="1073.5,587.8 1116.7,605.2 1091.1,262.6 1044.9,250.3" fill="rgb(243,151,157)" fill-opacity="0.7"/>
<polygon points="1116.7,605.2 1161.0,578.3 1139.6,242.3 1091.1,262.6" fill="rgb(170,102,107)" fill-opacity="0.7"/>
<polygon points="1044.9,250.3 1091.1,262.6 1139.6,242.3 1093.6,230.7" fill="rgb(193,120,118)" fill-opacity="0.7"/>
<polygon points="1152.1,619.4 1198.3,638.0 1242.0,609.3 1196.2,591.8" fill="rgb(193,120,118)" fill-opacity="0.7"/>
<polygon points="1152.1,619.4 1196.2,591.8 1177.5,256.8 1129.4,277.7" fill="rgb(170,102,107)" fill-opacity="0.7"/>
<polygon points="1196.2,591.8 1242.0,609.3 1226.7,269.2 1177.5,256.8" fill="rgb(243,151,157)" fill-opacity="0.7"/>
<polygon points="1152.1,619.4 1198.3,638.0 1178.9,290.9 1129.4,277.7" fill="rgb(243,151,157)" fill-opacity="0.7"/>
<polygon points="1198.3,638.0 1242.0,609.3 1226.7,269.2 1178.9,290.9" fill="rgb(170,102,107)" fill-opacity="0.7"/>
<polygon points="1129.4,277.7 1178.9,290.9 1226.7,269.2 1177.5,256.8" fill="rgb(193,120,118)" fill-opacity="0.7"/>
<polygon points="1236.1,653.1 1285.4,673.0 1328.4,642.5 1279.5,623.7" fill="rgb(193,120,118)" fill-opacity="0.7"/>
<polygon points="1236.1,653.1 1279.5,623.7 1266.8,270.9 1219.2,293.1" fill="rgb(170,102,107)" fill-opacity="0.7"/>
<polygon points="1279.5,623.7 1328.4,642.5 1319.6,284.1 1266.8,270.9" fill="rgb(243,151,157)" fill-opacity="0.7"/>
<polygon points="1236.1,653.1 1285.4,673.0 1272.6,307.1 1219.2,293.1" fill="rgb(243,151,157)" fill-opacity="0.7"/>
<polygon points="1285.4,673.0 1328.4,642.5 1319.6,284.1 1272.6,307.1" fill="rgb(170,102,107)" fill-opacity="0.7"/>
<polygon points="1219.2,293.1 1272.6,307.1 1319.6,284.1 1266.8,270.9" fill="rgb(193,120,118)" fill-opacity="0.7"/>
<polygon points="1325.9,689.2 1378.8,710.5 1420.8,678.0 1368.5,657.9" fill="rgb(193,120,118)" fill-opacity="0.7"/>
<polygon points="1325.9,689.2 1368.5,657.9 1363.1,296.7 1316.5,320.5" fill="rgb(170,102,107)" fill-opacity="0.7"/>
<polygon points="1368.5,657.9 1420.8,678.0 1420.0,310.9 1363.1,296.7" fill="rgb(243,151,157)" fill-opacity="0.7"/>
<polygon points="1325.9,689.2 1378.8,710.5 1374.1,335.6 1316.5,320.5" fill="rgb(243,151,157)" fill-opacity="0.7"/>
<polygon points="1378.8,710.5 1420.8,678.0 1420.0,310.9 1374.1,335.6" fill="rgb(170,102,107)" fill-opacity="0.7"/>
<polygon points="1316.5,320.5 1374.1,335.6 1420.0,310.9 1363.1,296.7" fill="rgb(193,120,118)" fill-opacity="0.7"/>
</g>
<path d="M1005.0,611.6L1350.9,758.2 M1350.9,758.2L1600.9,560.8 M1600.9,560.8L1617.0,160.4" stroke="#0a0a0a" stroke-width="2.4" fill="none" stroke-linecap="square"/>
<path d="M1046.4,629.2L1054.1,624.6 M1126.1,662.9L1133.6,658.1 M1212.3,699.5L1219.7,694.4 M1304.1,738.4L1311.3,732.9 M1421.5,702.4L1413.1,699.1 M1545.9,604.2L1537.4,601.3 M1600.9,560.8L1591.4,557.7 M1603.6,493.2L1594.0,490.3 M1606.4,423.4L1596.8,420.8 M1609.3,351.4L1599.6,349.0 M1612.3,276.9L1602.6,274.8 M1615.4,199.9L1605.6,198.0 M1602.3,527.2L1597.0,525.6 M1605.0,458.6L1599.7,457.1 M1607.9,387.7L1602.5,386.3 M1610.8,314.5L1605.5,313.2 M1613.9,238.8L1608.5,237.6" stroke="#0a0a0a" stroke-width="1.8" fill="none"/>
<text transform="translate(1686.9,222.8) skewX(-3) scale(1,1.07)" font-family="'Liberation Serif', 'Times New Roman', serif" font-size="33.5" text-anchor="end" fill="#111">1.0</text>
<text transform="translate(1681.5,296.0) skewX(-3) scale(1,1.07)" font-family="'Liberation Serif', 'Times New Roman', serif" font-size="33.5" text-anchor="end" fill="#111">0.8</text>
<text transform="translate(1679.3,367.6) skewX(-3) scale(1,1.07)" font-family="'Liberation Serif', 'Times New Roman', serif" font-size="33.5" text-anchor="end" fill="#111">0.6</text>
<text transform="translate(1674.5,440.5) skewX(-3) scale(1,1.07)" font-family="'Liberation Serif', 'Times New Roman', serif" font-size="33.5" text-anchor="end" fill="#111">0.4</text>
<text transform="translate(1673,513) skewX(-3) scale(1,1.07)" font-family="'Liberation Serif', 'Times New Roman', serif" font-size="33.5" text-anchor="end" fill="#111">0.2</text>
<text transform="translate(1660,575.2) skewX(-3) scale(1,1.07)" font-family="'Liberation Serif', 'Times New Roman', serif" font-size="33.5" text-anchor="end" fill="#111">0</text>
<text transform="matrix(0.065,-1,1.0,0.0,1728.4,446.4)" font-family="'Liberation Serif', 'Times New Roman', serif" font-size="34.8" fill="#111">Purity</text>
<text transform="translate(948.3,630.6) rotate(22)" font-family="'Liberation Serif', 'Times New Roman', serif" font-size="34.3" fill="#0f6fc0">1529.6</text>
<text transform="translate(1048.6,672.6) rotate(22)" font-family="'Liberation Serif', 'Times New Roman', serif" font-size="34.3" fill="#1aab4e">1543.3</text>
<text transform="translate(1148.3,716) rotate(22)" font-family="'Liberation Serif', 'Times New Roman', serif" font-size="34.3" fill="#f5961a">1553.0</text>
<text transform="translate(1250.5,757.6) rotate(22)" font-family="'Liberation Serif', 'Times New Roman', serif" font-size="34.3" fill="#f0141e">1561.4</text>
<text transform="translate(1019,713.2) rotate(21.5)" font-family="'Liberation Serif', 'Times New Roman', serif" font-size="34.4" fill="#111">Wavelength (nm)</text>
<text transform="translate(1421,752) rotate(-37.5)" font-family="'Liberation Serif', 'Times New Roman', serif" font-size="32.5" letter-spacing="1.2" fill="#c00000"><tspan font-style="italic" dx="1">l</tspan> = -1</text>
<text transform="translate(1540.4,661) rotate(-38.8)" font-family="'Liberation Serif', 'Times New Roman', serif" font-size="32.5" letter-spacing="1.3" fill="#7030a0"><tspan font-style="italic" dx="1">l</tspan> = +1</text>
<circle cx="1603.8" cy="656.3" r="23.5" fill="none" stroke="#a3a3ff" stroke-width="5.8"/>
<polygon points="1636.2,652.2 1619.6,642.2 1618.8,661.4" fill="#a3a3ff"/>
<circle cx="1488.4" cy="754" r="23.5" fill="none" stroke="#eba6a6" stroke-width="5.8"/>
<polygon points="1456,751.3 1472.6,741.4 1473.4,760.6" fill="#eba6a6"/>
<path d="M965.5,669.5l2.2,-3" stroke="#444" stroke-width="1" fill="none"/>
</g>
<g font-family="'Liberation Sans', Arial, sans-serif" font-weight="bold" font-size="41" fill="#222">
<text x="1.2" y="49.4">(a)</text>
<text x="923" y="49.2">(b)</text>
</g>
</svg>
</body></html>
